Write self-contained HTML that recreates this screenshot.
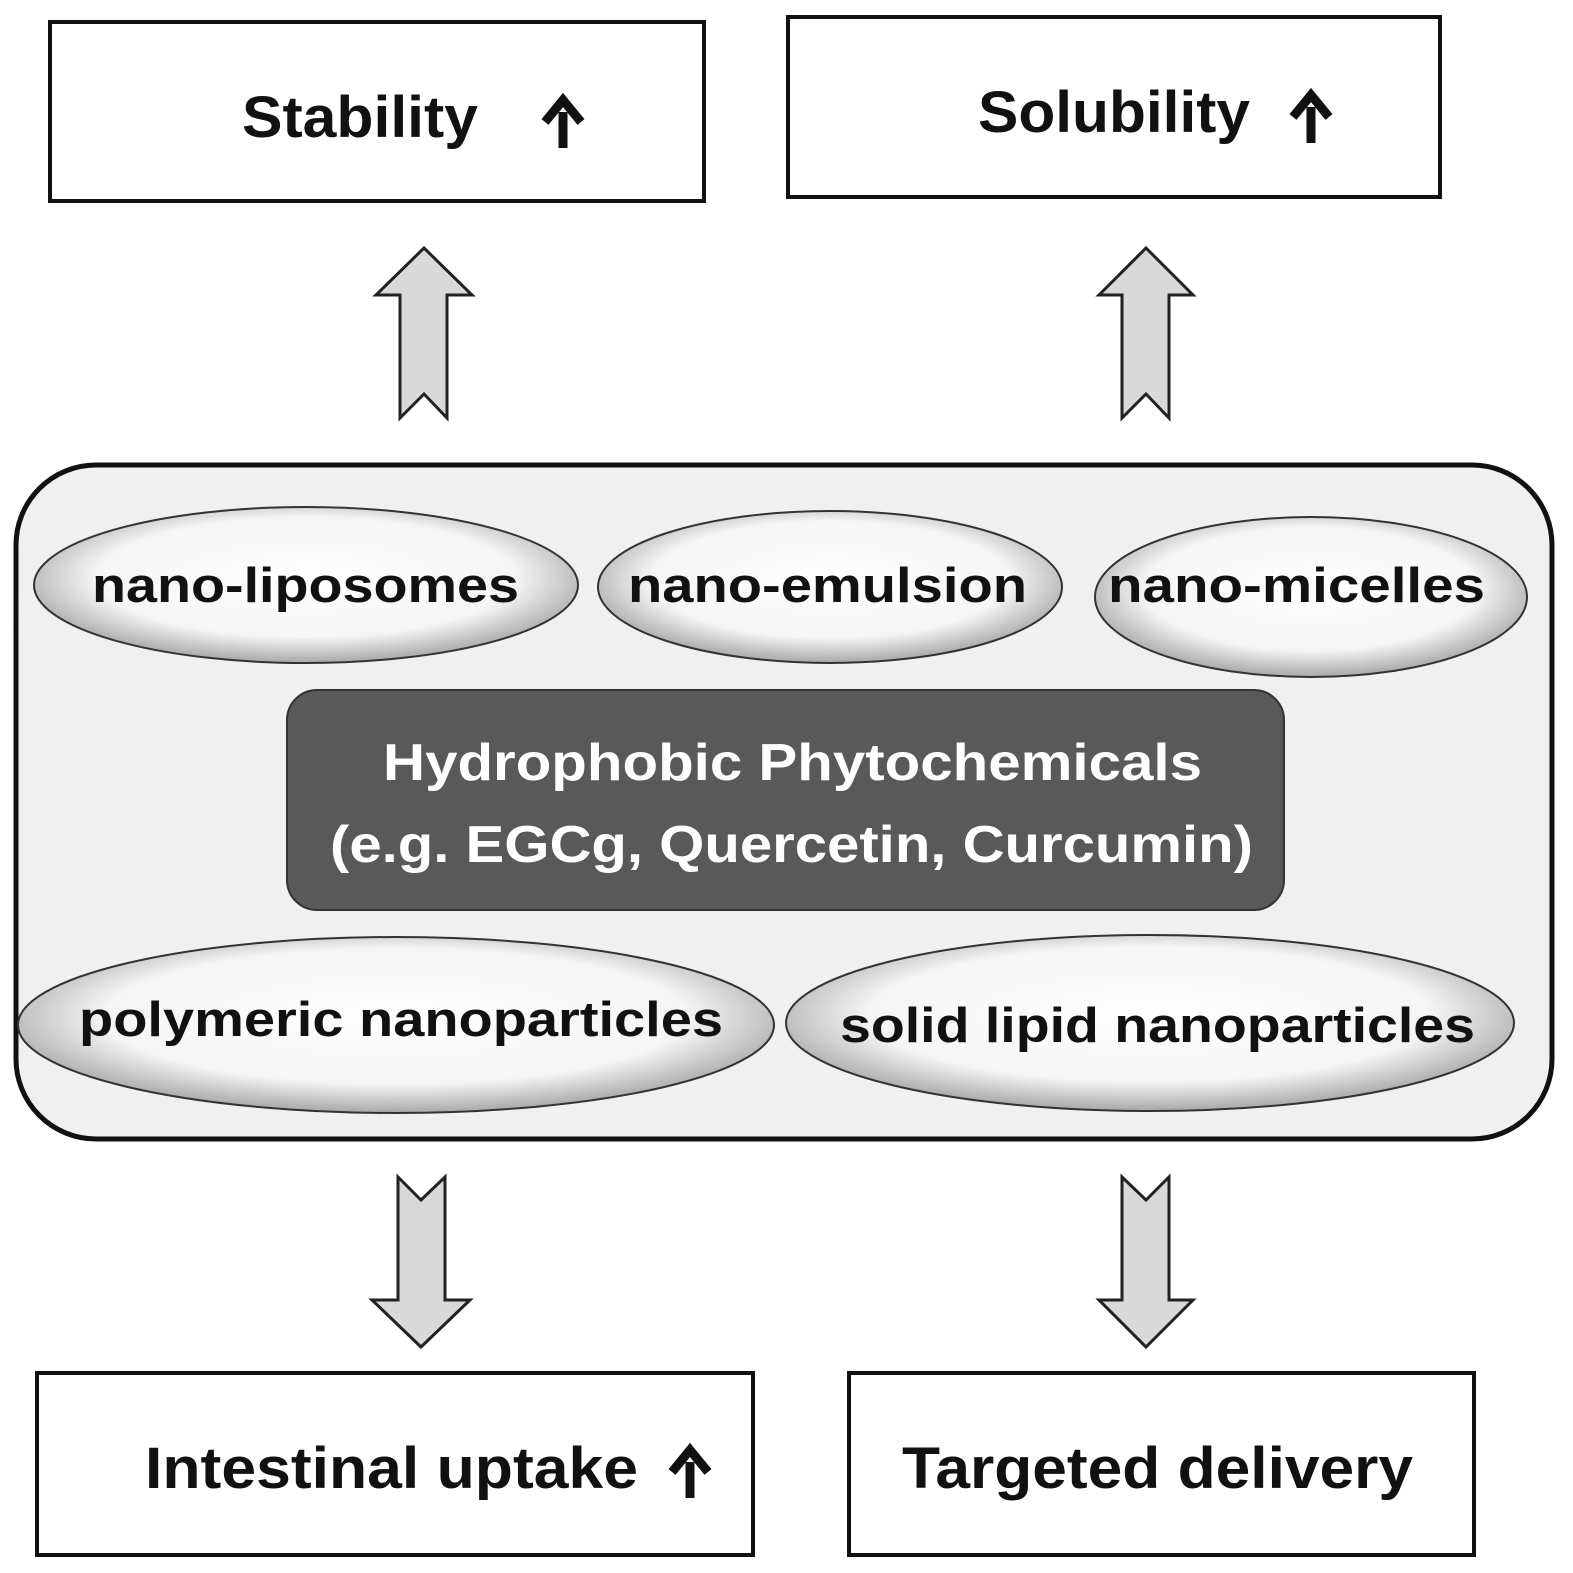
<!DOCTYPE html>
<html><head><meta charset="utf-8"><style>
html,body{margin:0;padding:0;background:#fff;}
svg{display:block}
text{font-family:"Liberation Sans",sans-serif;font-weight:bold;}
</style></head><body>
<svg width="1573" height="1573" viewBox="0 0 1573 1573" xmlns="http://www.w3.org/2000/svg">
<defs>
<radialGradient id="eg" cx="50%" cy="45%" r="55%">
<stop offset="0%" stop-color="#ffffff"/>
<stop offset="70%" stop-color="#f5f5f5"/>
<stop offset="100%" stop-color="#a8a8a8"/>
</radialGradient>
</defs>
<rect x="50" y="22" width="654" height="179" fill="#fff" stroke="#111" stroke-width="4"/>
<text x="242" y="137" font-size="58" textLength="236" lengthAdjust="spacingAndGlyphs" fill="#111">Stability</text>
<path d="M563 148 V112 M545 122 L563 100 L581 122" stroke="#111" stroke-width="9" fill="none"/>
<rect x="788" y="17" width="652" height="180" fill="#fff" stroke="#111" stroke-width="4"/>
<text x="978" y="132" font-size="58" textLength="272" lengthAdjust="spacingAndGlyphs" fill="#111">Solubility</text>
<path d="M1311 143 V107 M1293 117 L1311 95 L1329 117" stroke="#111" stroke-width="9" fill="none"/>
<path d="M424 248 L472 295 L447 295 L447 418 L424 394 L400 418 L400 295 L376 295 Z" fill="#d9d9d9" stroke="#222" stroke-width="3"/>
<path d="M1146 248 L1193 295 L1169 295 L1169 418 L1146 394 L1122 418 L1122 295 L1099 295 Z" fill="#d9d9d9" stroke="#222" stroke-width="3"/>
<rect x="16" y="465" width="1536" height="674" rx="80" fill="#f0f0f0" stroke="#111" stroke-width="5"/>
<ellipse cx="306" cy="585" rx="272" ry="78" fill="url(#eg)" stroke="#333" stroke-width="2"/>
<text x="92" y="602" font-size="49" textLength="427" lengthAdjust="spacingAndGlyphs" fill="#111">nano-liposomes</text>
<ellipse cx="830" cy="587" rx="232" ry="76" fill="url(#eg)" stroke="#333" stroke-width="2"/>
<text x="628" y="602" font-size="49" textLength="399" lengthAdjust="spacingAndGlyphs" fill="#111">nano-emulsion</text>
<ellipse cx="1311" cy="597" rx="216" ry="80" fill="url(#eg)" stroke="#333" stroke-width="2"/>
<text x="1108" y="602" font-size="49" textLength="377" lengthAdjust="spacingAndGlyphs" fill="#111">nano-micelles</text>
<rect x="287" y="690" width="997" height="220" rx="30" fill="#595959" stroke="#333" stroke-width="2"/>
<text x="383" y="780" font-size="52" textLength="819" lengthAdjust="spacingAndGlyphs" fill="#fff">Hydrophobic Phytochemicals</text>
<text x="330" y="862" font-size="52" textLength="923" lengthAdjust="spacingAndGlyphs" fill="#fff">(e.g. EGCg, Quercetin, Curcumin)</text>
<ellipse cx="396" cy="1025" rx="378" ry="88" fill="url(#eg)" stroke="#333" stroke-width="2"/>
<text x="79" y="1036" font-size="49" textLength="644" lengthAdjust="spacingAndGlyphs" fill="#111">polymeric nanoparticles</text>
<ellipse cx="1150" cy="1023" rx="364" ry="88" fill="url(#eg)" stroke="#333" stroke-width="2"/>
<text x="840" y="1042" font-size="49" textLength="635" lengthAdjust="spacingAndGlyphs" fill="#111">solid lipid nanoparticles</text>
<path d="M398 1177 L421 1200 L445 1177 L445 1300 L470 1300 L421 1347 L372 1300 L398 1300 Z" fill="#d9d9d9" stroke="#222" stroke-width="3"/>
<path d="M1122 1177 L1146 1200 L1169 1177 L1169 1300 L1193 1300 L1146 1347 L1099 1300 L1122 1300 Z" fill="#d9d9d9" stroke="#222" stroke-width="3"/>
<rect x="37" y="1373" width="716" height="182" fill="#fff" stroke="#111" stroke-width="4"/>
<text x="145" y="1488" font-size="58" textLength="493" lengthAdjust="spacingAndGlyphs" fill="#111">Intestinal uptake</text>
<path d="M690 1498 V1462 M672 1472 L690 1450 L708 1472" stroke="#111" stroke-width="9" fill="none"/>
<rect x="849" y="1373" width="625" height="182" fill="#fff" stroke="#111" stroke-width="4"/>
<text x="902" y="1488" font-size="58" textLength="511" lengthAdjust="spacingAndGlyphs" fill="#111">Targeted delivery</text>
</svg>
</body></html>
